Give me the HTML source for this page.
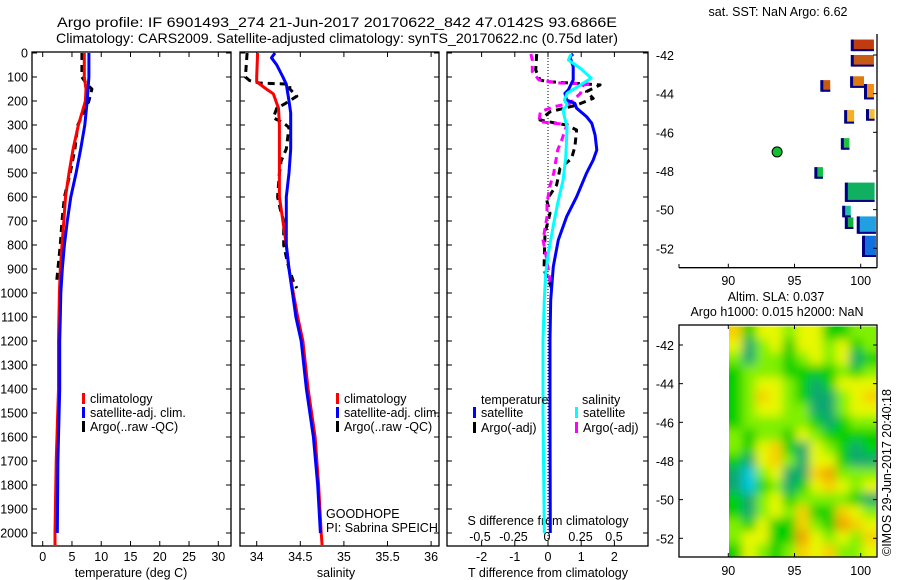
<!DOCTYPE html>
<html><head><meta charset="utf-8"><style>
html,body{margin:0;padding:0;background:#fff;}
svg{display:block;font-family:"Liberation Sans",sans-serif;}
text{font-size:12.5px;fill:#000;}
</style></head><body>
<svg id="chart" width="900" height="580" viewBox="0 0 900 580" xmlns="http://www.w3.org/2000/svg">
<defs>
<clipPath id="c1"><rect x="32" y="52" width="199" height="494"/></clipPath>
<clipPath id="c2"><rect x="240" y="52" width="199" height="494"/></clipPath>
<clipPath id="c3"><rect x="447" y="52" width="201" height="494"/></clipPath>
<clipPath id="cm2"><rect x="729" y="326.5" width="147" height="230"/></clipPath>
<filter id="blur" x="-10%" y="-10%" width="120%" height="120%"><feGaussianBlur stdDeviation="5"/></filter>
</defs>
<text x="57" y="27" textLength="560" lengthAdjust="spacingAndGlyphs" style="font-size:14px">Argo profile: IF 6901493_274 21-Jun-2017 20170622_842 47.0142S 93.6866E</text>
<text x="56" y="43" textLength="562" lengthAdjust="spacingAndGlyphs" style="font-size:14px">Climatology: CARS2009. Satellite-adjusted climatology: synTS_20170622.nc (0.75d later)</text>
<g id="p1"></g>
<g id="p2"></g>
<g id="p3"></g>
<g id="m1"></g>
<g id="m2"></g>
<text transform="translate(891,556) rotate(-90)" style="font-size:12.5px">©IMOS 29-Jun-2017 20:40:18</text>
</svg>
<script>
// ---- data ----
const depthTicks = [0,100,200,300,400,500,600,700,800,900,1000,1100,1200,1300,1400,1500,1600,1700,1800,1900,2000];
const tempTicks = [0,5,10,15,20,25,30];
const salTicks = [34,34.5,35,35.5,36];
const salTickLabels = ["34","34.5","35","35.5","36"];
const tdiffTicks = [-2,-1,0,1,2];
const sdiffTicks = [-0.5,-0.25,0,0.25,0.5];
const sdiffTickLabels = ["-0.5","-0.25","0","0.25","0.5"];

const tClimDepth = [0,100,150,200,250,300,400,500,600,700,800,900,1000,1200,1400,1700,2000,2050];
const tClimVal   = [7.1,7.1,7.4,7.3,6.7,6.1,5.2,4.5,3.9,3.6,3.3,3.0,2.85,2.7,2.7,2.3,2.1,2.1];
const tSatDepth  = [0,100,200,300,400,500,600,700,800,900,1000,1100,1200,1400,1700,2000];
const tSatVal    = [7.9,7.9,7.6,7.2,6.5,5.7,4.8,4.2,3.7,3.35,3.1,3.0,2.9,2.9,2.6,2.5];
const tArgoDepth = [0,100,130,150,200,300,400,500,600,700,800,900,950];
const tArgoVal   = [6.7,6.7,7.5,8.4,7.9,6.0,5.5,4.7,3.7,3.3,3.0,2.6,2.4];

const sClimDepth = [0,100,120,150,170,200,230,300,600,700,800,900,1000,1100,1200,1400,1600,1800,2000,2050];
const sClimVal   = [34.01,34.0,34.0,34.11,34.19,34.22,34.25,34.26,34.26,34.30,34.34,34.37,34.42,34.47,34.53,34.59,34.67,34.71,34.74,34.75];
const sSatDepth  = [0,20,50,100,130,200,250,400,500,600,800,900,1000,1100,1200,1400,1600,1800,2000];
const sSatVal    = [34.21,34.17,34.23,34.30,34.34,34.37,34.39,34.39,34.37,34.34,34.34,34.37,34.41,34.45,34.51,34.57,34.65,34.70,34.73];
const sArgoDepth = [0,100,115,125,130,150,180,210,230,270,290,310,400,450,500,600,650,700,800,850,900,950,980];
const sArgoVal   = [33.89,33.87,33.92,34.03,34.38,34.38,34.46,34.33,34.23,34.19,34.30,34.37,34.34,34.28,34.26,34.24,34.27,34.31,34.31,34.34,34.37,34.42,34.46];

const tdSatDepth = [4,15,57,112,154,168,196,210,230,265,293,342,404,446,501,599,682,779,890,1029,1196,1500,2000];
const tdSatVal   = [0.76,0.66,0.76,0.76,0.61,0.51,0.56,0.81,0.86,1.16,1.32,1.42,1.47,1.36,1.16,0.86,0.56,0.31,0.16,0.08,0.06,0.06,0.07];
const sdSatDepth = [4,29,64,105,133,168,196,217,237,265,307,432,529,626,710,835,918,1029,1196,1500,2000];
const sdSatVal   = [0.18,0.16,0.25,0.33,0.25,0.15,0.13,0.15,0.12,0.13,0.15,0.14,0.12,0.08,0.05,0.01,-0.01,-0.02,-0.03,-0.03,-0.02];
const tdArgoDepth = [4,71,112,119,133,161,189,217,245,279,293,300,321,390,439,481,550,612,668,751,904,980];
const tdArgoVal   = [-0.34,-0.37,-0.24,-0.04,1.57,1.16,1.36,0.86,0.06,-0.24,0.26,0.56,0.86,0.81,0.71,0.36,0.26,-0.04,0.06,-0.09,-0.12,0.11];
const sdArgoDepth = [4,29,78,112,124,129,133,168,210,224,245,286,293,297,363,404,501,557,626,682,779,835,904,980];
const sdArgoVal   = [-0.12,-0.11,-0.11,-0.06,0.07,0.33,0.27,0.25,0.17,0.05,-0.05,-0.06,0.05,0.15,0.11,0.08,0.05,0.02,0.0,0.0,-0.03,-0.01,0.01,0.03];

const latTicks = [-42,-44,-46,-48,-50,-52];
const lonTicks = [90,95,100];
const sstLon = [100.2,100.2,97.4,99.8,100.7,99.2,100.8,98.9,96.9,100.0,99.0,99.2,100.5,100.7];
const sstLat = [-41.5,-42.3,-43.6,-43.4,-43.9,-45.2,-45.1,-46.6,-48.1,-49.1,-50.1,-50.7,-50.8,-51.9];
const sstColor = ["#c03c10","#c85a18","#c85a10","#e07810","#f08c18","#f4b020","#f0c030","#20c040","#10c040","#10b060","#20c0a0","#10b040","#20a0e0","#1070e0"];
const sstW = [1.6,1.6,0.6,0.9,0.6,0.6,0.5,0.5,0.5,2.1,0.5,0.5,1.3,0.9];
const sstH = [0.6,0.6,0.6,0.6,0.8,0.7,0.6,0.6,0.6,1.0,0.6,0.6,0.9,1.1];
const argoLon = 93.6866, argoLat = -47.0142;

const slaLevels = ["#00c8e0","#10a870","#00d000","#80f000","#e8f800","#f8d000","#f0a000"];
const slaGrid = [
[5,2,4,4,3,4,4,2,2,3,3],
[4,1,3,4,2,4,4,3,4,2,3],
[3,1,3,3,2,3,4,3,4,1,2],
[2,3,3,3,2,2,2,2,3,2,3],
[2,3,4,4,3,2,1,2,4,4,4],
[2,3,5,4,3,2,1,1,3,4,5],
[2,3,4,4,3,3,1,1,3,4,4],
[2,3,3,3,3,3,2,1,2,3,3],
[3,2,3,3,2,4,3,2,2,2,2],
[3,2,4,5,2,1,4,3,2,1,2],
[2,1,4,5,3,1,4,4,2,1,1],
[1,0,3,4,1,1,5,6,3,3,3],
[1,0,2,3,1,2,4,5,4,3,4],
[2,1,3,4,2,3,3,3,3,2,1],
[2,1,3,4,3,5,2,2,5,4,3],
[3,2,4,2,2,5,3,2,6,5,4],
[3,4,4,2,2,6,4,3,4,3,5],
[2,4,3,2,3,5,4,5,3,3,4]];

// ---- helpers ----
const NS="http://www.w3.org/2000/svg";
function mk(parent,tag,attrs,txt){const e=document.createElementNS(NS,tag);for(const k in attrs)e.setAttribute(k,attrs[k]);if(txt!==undefined)e.textContent=txt;parent.appendChild(e);return e;}
const yD = d => 53 + d*0.24;
const PT=52, PB=546;
function frame(g,x0,x1){
  const r=mk(g,'rect',{x:x0,y:PT,width:x1-x0,height:PB-PT,fill:'none',stroke:'#000','stroke-width':1.3});
  
  
  depthTicks.forEach(d=>{mk(g,'line',{x1:x0,x2:x0+5,y1:yD(d),y2:yD(d),stroke:'#000'});mk(g,'line',{x1:x1,x2:x1-5,y1:yD(d),y2:yD(d),stroke:'#000'});});
}
function xticks(g,xs){xs.forEach(x=>{mk(g,'line',{x1:x,x2:x,y1:PT,y2:PT+5,stroke:'#000'});mk(g,'line',{x1:x,x2:x,y1:PB,y2:PB-5,stroke:'#000'});});}
function line(g,cl,depths,vals,xf,color,dash,name,w){
  const pts=depths.map((d,i)=>xf(vals[i]).toFixed(1)+','+yD(d).toFixed(1)).join(' ');
  const a={points:pts,fill:'none',stroke:color,'stroke-width':w||3,'clip-path':'url(#'+cl+')','stroke-linejoin':'round'};
  if(dash)a['stroke-dasharray']=dash;
  const p=mk(g,'polyline',a);
  
  
}
function legendMark(g,x,y,color,label,name){
  const r=mk(g,'rect',{x:x,y:y-10,width:3,height:11,fill:color});
  
  
  const t=mk(g,'text',{x:x+8,y:y},label);
  
  
}

// ---- panel 1: temperature ----
const p1=document.getElementById('p1');
const xT = v => 42.7 + v*5.853;
frame(p1,32,231);
xticks(p1,tempTicks.map(xT));
depthTicks.forEach(d=>{const t=mk(p1,'text',{x:28,y:yD(d)+4.5,'text-anchor':'end'},String(d));});
tempTicks.forEach(v=>{const t=mk(p1,'text',{x:xT(v),y:561,'text-anchor':'middle'},String(v));});
{const t=mk(p1,'text',{x:131,y:577,'text-anchor':'middle'},'temperature (deg C)');}
line(p1,'c1',tArgoDepth,tArgoVal,xT,'#000','7 5','temp-argo-line',3);
line(p1,'c1',tClimDepth,tClimVal,xT,'#ff0000',null,'temp-climatology-line');
line(p1,'c1',tSatDepth,tSatVal,xT,'#0000ff',null,'temp-satellite-line');
legendMark(p1,82,403,'#ff0000','climatology','legend-climatology');
legendMark(p1,82,417,'#0000ff','satellite-adj. clim.','legend-satellite');
legendMark(p1,82,431,'#000','Argo(..raw -QC)','legend-argo');

// ---- panel 2: salinity ----
const p2=document.getElementById('p2');
const xS = v => 256.7 + (v-34)*87.2;
frame(p2,240,439);
xticks(p2,salTicks.map(xS));
salTicks.forEach((v,i)=>{const t=mk(p2,'text',{x:xS(v),y:561,'text-anchor':'middle'},salTickLabels[i]);});
{const t=mk(p2,'text',{x:336,y:577,'text-anchor':'middle'},'salinity');}
line(p2,'c2',sArgoDepth,sArgoVal,xS,'#000','7 5','sal-argo-line',3);
line(p2,'c2',sClimDepth,sClimVal,xS,'#ff0000',null,'sal-climatology-line');
line(p2,'c2',sSatDepth,sSatVal,xS,'#0000ff',null,'sal-satellite-line');
legendMark(p2,336,403,'#ff0000','climatology','legend-climatology');
legendMark(p2,336,417,'#0000ff','satellite-adj. clim.','legend-satellite');
legendMark(p2,336,431,'#000','Argo(..raw -QC)','legend-argo');
{const t=mk(p2,'text',{x:326,y:518},'GOODHOPE');
 const u=mk(p2,'text',{x:326,y:532},'PI: Sabrina SPEICH');}

// ---- panel 3: differences ----
const p3=document.getElementById('p3');
const xTd = v => 548 + v*33.2;
const xSd = v => 547 + v*134;
frame(p3,447,648);
xticks(p3,tdiffTicks.map(xTd));
mk(p3,'line',{x1:548,x2:548,y1:PT,y2:PB,stroke:'#000','stroke-dasharray':'1 2','stroke-width':1});
tdiffTicks.forEach(v=>{const t=mk(p3,'text',{x:xTd(v),y:561,'text-anchor':'middle'},String(v));});
sdiffTicks.forEach((v,i)=>{const t=mk(p3,'text',{x:xSd(v),y:541,'text-anchor':'middle'},sdiffTickLabels[i]);});
{const t=mk(p3,'text',{x:548,y:577,'text-anchor':'middle'},'T difference from climatology');
 const u=mk(p3,'text',{x:548,y:525,'text-anchor':'middle'},'S difference from climatology');}
line(p3,'c3',tdArgoDepth,tdArgoVal,xTd,'#000','7 5','tdiff-argo-line',3);
line(p3,'c3',sdArgoDepth,sdArgoVal,xSd,'#ff00ff','7 5','sdiff-argo-line',3);
line(p3,'c3',tdSatDepth,tdSatVal,xTd,'#0000ff',null,'tdiff-satellite-line');
line(p3,'c3',sdSatDepth,sdSatVal,xSd,'#00ffff',null,'sdiff-satellite-line');
{const t=mk(p3,'text',{x:481,y:404},'temperature');
 const u=mk(p3,'text',{x:582,y:404},'salinity');}
legendMark(p3,473,417,'#0000ff','satellite','legend-t-satellite');
legendMark(p3,473,432,'#000','Argo(-adj)','legend-t-argo');
legendMark(p3,575,417,'#00ffff','satellite','legend-s-satellite');
legendMark(p3,575,432,'#ff00ff','Argo(-adj)','legend-s-argo');

// ---- map 1: SST ----
const m1=document.getElementById('m1');
const xLon = v => 728.3 + (v-90)*13.24;
const yLat1 = v => 55 - (v+42)*19.33;
const yLat2 = v => 345 - (v+42)*19.33;
{const t=mk(m1,'text',{x:778,y:16,'text-anchor':'middle'},'sat. SST: NaN Argo: 6.62');}
sstLon.forEach((lo,i)=>{
  const x=xLon(lo), y=yLat1(sstLat[i]), w=sstW[i]*13.24, h=sstH[i]*19.33;
  const r=mk(m1,'rect',{x:x-w/2,y:y-h/2,width:w,height:h,fill:sstColor[i]});
  
  
  mk(m1,'rect',{x:x-w/2-2,y:y-h/2,width:3,height:h,fill:'#000080'});
  mk(m1,'rect',{x:x-w/2,y:y+h/2-2,width:w,height:2,fill:'#000080'});
});
{const c=mk(m1,'circle',{cx:xLon(argoLon),cy:yLat1(argoLat),r:5,fill:'#10c030',stroke:'#000','stroke-width':1});}
mk(m1,'line',{x1:679,x2:877,y1:267.7,y2:267.7,stroke:'#000','stroke-width':1.3});
mk(m1,'line',{x1:877,x2:877,y1:34,y2:267.7,stroke:'#000','stroke-width':1.3});
latTicks.forEach(v=>{mk(m1,'line',{x1:877,x2:873,y1:yLat1(v),y2:yLat1(v),stroke:'#000'});const t=mk(m1,'text',{x:674,y:yLat1(v)+5,'text-anchor':'end'},String(v));});
lonTicks.forEach(v=>{mk(m1,'line',{x1:xLon(v),x2:xLon(v),y1:267.7,y2:263.7,stroke:'#000'});const t=mk(m1,'text',{x:xLon(v),y:285,'text-anchor':'middle'},String(v));});
mk(m1,'line',{x1:679,x2:679,y1:264,y2:267.7,stroke:'#000'});

// ---- map 2: SLA ----
const m2=document.getElementById('m2');
{const t=mk(m2,'text',{x:776,y:301,'text-anchor':'middle'},'Altim. SLA: 0.037');
 const u=mk(m2,'text',{x:777,y:316,'text-anchor':'middle'},'Argo h1000: 0.015 h2000: NaN');}
const hx0=729, hx1=876, hy0=326.5, hy1=556.5;
const nr=slaGrid.length, nc=slaGrid[0].length;
const cw=(hx1-hx0)/nc, ch=(hy1-hy0)/nr;
const clipG=mk(m2,'g',{'clip-path':'url(#cm2)'});
const hg=mk(clipG,'g',{filter:'url(#blur)'});


slaGrid.forEach((row,r)=>row.forEach((v,c)=>{
  let x=hx0+c*cw, y=hy0+r*ch, w=cw+0.6, h=ch+0.6;
  if(c===0){x-=14;w+=14;} if(c===nc-1){w+=14;}
  if(r===0){y-=14;h+=14;} if(r===nr-1){h+=14;}
  const cell=mk(hg,'rect',{x:x,y:y,width:w,height:h,fill:slaLevels[v]});
  
  
}));
mk(m2,'rect',{x:679,y:325,width:198,height:232,fill:'none',stroke:'#000','stroke-width':1.3});
latTicks.forEach(v=>{mk(m2,'line',{x1:877,x2:873,y1:yLat2(v),y2:yLat2(v),stroke:'#000'});mk(m2,'line',{x1:679,x2:683,y1:yLat2(v),y2:yLat2(v),stroke:'#000'});const t=mk(m2,'text',{x:674,y:yLat2(v)+5,'text-anchor':'end'},String(v));});
lonTicks.forEach(v=>{mk(m2,'line',{x1:xLon(v),x2:xLon(v),y1:557,y2:553,stroke:'#000'});mk(m2,'line',{x1:xLon(v),x2:xLon(v),y1:325,y2:329,stroke:'#000'});const t=mk(m2,'text',{x:xLon(v),y:575,'text-anchor':'middle'},String(v));});
</script>
</body></html>
